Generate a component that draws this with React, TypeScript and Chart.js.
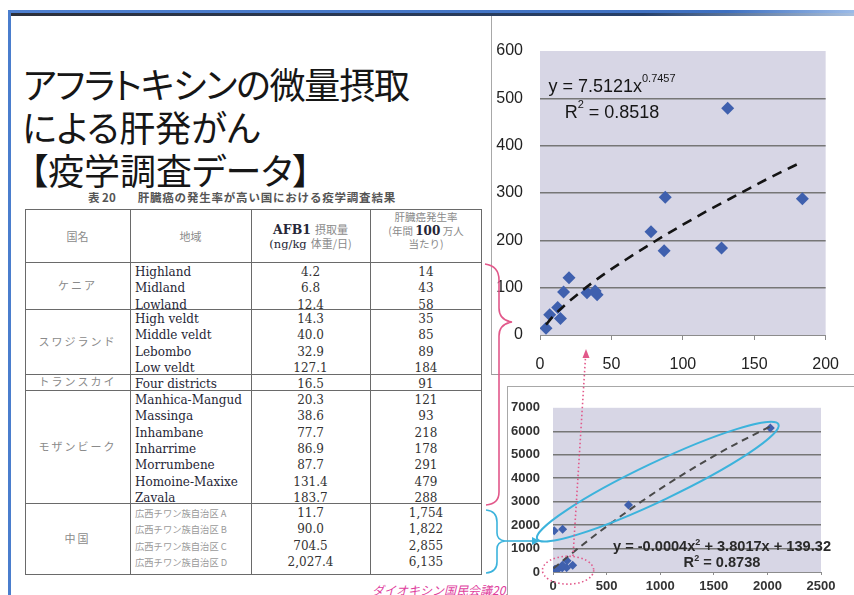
import React, { useEffect, useRef } from 'react';
import { Chart, registerables } from 'chart.js';

Chart.register(...registerables);

// ---------- survey data (Table 20) ----------
const countries = ['ケニア', 'スワジランド', 'トランスカイ', 'モザンビーク', '中国'];
const regionsPerCountry = [3, 4, 1, 7, 4];
const regions = [
  'Highland', 'Midland', 'Lowland',
  'High veldt', 'Middle veldt', 'Lebombo', 'Low veldt',
  'Four districts',
  'Manhica-Mangud', 'Massinga', 'Inhambane', 'Inharrime', 'Morrumbene', 'Homoine-Maxixe', 'Zavala',
  '広西チワン族自治区 A', '広西チワン族自治区 B', '広西チワン族自治区 C', '広西チワン族自治区 D',
];
// AFB1 intake (ng/kg body weight/day)
const afb1Intake = [4.2, 6.8, 12.4, 14.3, 40.0, 32.9, 127.1, 16.5, 20.3, 38.6, 77.7, 86.9, 87.7, 131.4, 183.7, 11.7, 90.0, 704.5, 2027.4];
// liver cancer incidence (per million per year)
const liverCancerRate = [14, 43, 58, 35, 85, 89, 184, 91, 121, 93, 218, 178, 291, 479, 288, 1754, 1822, 2855, 6135];
const africanRegionCount = 15;

// trend lines
const powerFitX = [4.2, 10, 20, 40, 60, 80, 100, 120, 140, 160, 183.7];
const powerFitY = [22, 42, 70, 118, 159, 197, 233, 267, 299, 331, 366];
const polyFitX = [4.2, 250, 500, 750, 1000, 1250, 1500, 1750, 2027.4];
const polyFitY = [155, 1065, 1940, 2766, 3541, 4266, 4942, 5567, 6203];

// axis ticks
const topXTicks = [0, 50, 100, 150, 200];
const topYTicks = [0, 100, 200, 300, 400, 500, 600];
const bottomXTicks = [0, 500, 1000, 1500, 2000, 2500];
const bottomYTicks = [0, 1000, 2000, 3000, 4000, 5000, 6000, 7000];

// trend line labels
const powerFitEquation = [{ t: 'y = 7.5121x' }, { t: '0.7457', sup: true }];
const powerFitR2 = [{ t: 'R' }, { t: '2', sup: true }, { t: ' = 0.8518' }];
const polyFitEquation = [{ t: 'y = -0.0004x' }, { t: '2', sup: true }, { t: ' + 3.8017x + 139.32' }];
const polyFitR2 = [{ t: 'R' }, { t: '2', sup: true }, { t: ' = 0.8738' }];

// ---------- styling ----------
const ARIAL = '"Liberation Sans", Arial, sans-serif';
const GOTHIC = '"Noto Sans CJK JP", "Noto Sans", sans-serif';
const SERIF = '"DejaVu Serif", "Liberation Serif", serif';
const PLOT_BG = '#d7d6e5';
const GRID = '#767676';
const POINT = '#3f60ae';
const PINK = '#e2588a';
const CYAN = '#3cb3dc';

const pts = (xs: number[], ys: number[]) => xs.map((x, i) => ({ x, y: ys[i] }));
const plain = (v: any) => String(v);

const plotBackground = {
  id: 'plotBackground',
  beforeDraw(chart: any, _args: any, opts: any) {
    const { ctx, chartArea: a } = chart;
    ctx.save();
    ctx.fillStyle = opts.color;
    ctx.fillRect(a.left, a.top, a.right - a.left, a.bottom - a.top);
    ctx.restore();
  },
};

// centred multi-line label with superscripts
const fitLabel = {
  id: 'fitLabel',
  afterDatasetsDraw(chart: any, _args: any, opts: any) {
    const { ctx, chartArea: a } = chart;
    ctx.save();
    ctx.fillStyle = opts.color;
    ctx.textBaseline = 'alphabetic';
    const main = `${opts.weight} ${opts.size}px ${ARIAL}`;
    const sup = `${opts.weight} ${opts.supSize}px ${ARIAL}`;
    opts.lines.forEach((line: any) => {
      let w = 0;
      line.parts.forEach((p: any) => {
        ctx.font = p.sup ? sup : main;
        w += ctx.measureText(p.t).width;
      });
      let x = a.left + opts.cx - w / 2;
      const base = a.top + line.dy;
      line.parts.forEach((p: any) => {
        ctx.font = p.sup ? sup : main;
        ctx.fillText(p.t, x, p.sup ? base - opts.supRise : base);
        x += ctx.measureText(p.t).width;
      });
    });
    ctx.restore();
  },
};

// rings drawn around the two groups of regions
const groupRings = {
  id: 'groupRings',
  afterDatasetsDraw(chart: any) {
    const { ctx, scales } = chart;
    const px = (i: number) => [scales.x.getPixelForValue(afb1Intake[i]), scales.y.getPixelForValue(liverCancerRate[i])];
    ctx.save();
    // Chinese regions
    const [x1, y1] = px(africanRegionCount);
    const [x2, y2] = px(afb1Intake.length - 1);
    const len = Math.hypot(x2 - x1, y2 - y1);
    const ux = (x2 - x1) / len;
    const uy = (y2 - y1) / len;
    const semi = (len + 28) / 2;
    const off = semi - 19;
    ctx.strokeStyle = CYAN;
    ctx.lineWidth = 2;
    ctx.beginPath();
    ctx.ellipse(x1 + ux * off, y1 + uy * off, semi, 19, Math.atan2(uy, ux), 0, Math.PI * 2);
    ctx.stroke();
    // African regions
    let minX = Infinity, maxX = -Infinity, minY = Infinity, maxY = -Infinity;
    for (let i = 0; i < africanRegionCount; i++) {
      const [x, y] = px(i);
      minX = Math.min(minX, x); maxX = Math.max(maxX, x);
      minY = Math.min(minY, y); maxY = Math.max(maxY, y);
    }
    ctx.strokeStyle = PINK;
    ctx.lineWidth = 1.6;
    ctx.setLineDash([1.5, 2.5]);
    ctx.beginPath();
    ctx.ellipse((minX + maxX) / 2 + 5, (minY + maxY) / 2 + 4, (maxX - minX) / 2 + 16, (maxY - minY) / 2 + 8.5, 0, 0, Math.PI * 2);
    ctx.stroke();
    ctx.restore();
  },
};

const gridColor = (lo: number, hi: number) => (c: any) =>
  c.tick && (c.tick.value === lo || c.tick.value === hi) ? 'rgba(0,0,0,0)' : GRID;

function topConfig(): any {
  return {
    type: 'scatter',
    data: {
      datasets: [
        {
          type: 'line',
          data: pts(powerFitX, powerFitY),
          borderColor: '#141414',
          borderWidth: 2.6,
          borderDash: [10, 7],
          pointRadius: 0,
          cubicInterpolationMode: 'monotone',
          fill: false,
          order: 0,
        },
        {
          data: pts(afb1Intake.slice(0, africanRegionCount), liverCancerRate.slice(0, africanRegionCount)),
          pointStyle: 'rectRot',
          pointRadius: 6.5,
          backgroundColor: POINT,
          borderWidth: 0,
          order: 1,
        },
      ],
    },
    options: {
      animation: false,
      responsive: false,
      events: [],
      layout: { padding: { top: 35, right: 22, left: 0, bottom: 0 } },
      plugins: {
        legend: { display: false },
        tooltip: { enabled: false },
        plotBackground: { color: PLOT_BG },
        fitLabel: {
          color: '#161616', weight: 'normal', size: 18, supSize: 11, supRise: 10, cx: 72,
          lines: [{ dy: 41, parts: powerFitEquation }, { dy: 67, parts: powerFitR2 }],
        },
      },
      scales: {
        x: {
          type: 'linear',
          min: topXTicks[0],
          max: topXTicks[topXTicks.length - 1],
          ticks: { stepSize: topXTicks[1] - topXTicks[0], color: '#222', font: { family: ARIAL, size: 16 }, padding: 15, maxRotation: 0, callback: plain },
          grid: { drawOnChartArea: false, drawTicks: true, tickLength: 5, color: '#8c8c8c' },
          border: { display: true, color: '#8c8c8c', width: 1 },
          afterFit: (s: any) => { s.height = 38; },
        },
        y: {
          min: topYTicks[0],
          max: topYTicks[topYTicks.length - 1],
          ticks: { stepSize: topYTicks[1] - topYTicks[0], color: '#222', font: { family: ARIAL, size: 16 }, padding: 17, callback: plain },
          grid: { color: gridColor(topYTicks[0], topYTicks[topYTicks.length - 1]), lineWidth: 1.5, drawTicks: false },
          border: { display: false },
          afterFit: (s: any) => { s.width = 48; },
        },
      },
    },
    plugins: [plotBackground, fitLabel],
  };
}

function bottomConfig(): any {
  return {
    type: 'scatter',
    data: {
      datasets: [
        {
          type: 'line',
          data: pts(polyFitX, polyFitY),
          borderColor: '#4a4a4a',
          borderWidth: 2,
          borderDash: [7, 5],
          pointRadius: 0,
          cubicInterpolationMode: 'monotone',
          fill: false,
          order: 0,
        },
        {
          data: pts(afb1Intake, liverCancerRate),
          pointStyle: 'rectRot',
          pointRadius: 4.5,
          backgroundColor: POINT,
          borderWidth: 0,
          order: 1,
        },
      ],
    },
    options: {
      animation: false,
      responsive: false,
      events: [],
      layout: { padding: { top: 20, right: 33, left: 0, bottom: 0 } },
      plugins: {
        legend: { display: false },
        tooltip: { enabled: false },
        plotBackground: { color: PLOT_BG },
        fitLabel: {
          color: '#2a2a2a', weight: 'bold', size: 14.6, supSize: 9, supRise: 6, cx: 169,
          lines: [{ dy: 143, parts: polyFitEquation }, { dy: 159, parts: polyFitR2 }],
        },
      },
      scales: {
        x: {
          type: 'linear',
          min: bottomXTicks[0],
          max: bottomXTicks[bottomXTicks.length - 1],
          ticks: { stepSize: bottomXTicks[1] - bottomXTicks[0], color: '#333', font: { family: ARIAL, size: 13, weight: 'bold' }, padding: 4, maxRotation: 0, callback: plain },
          grid: { drawOnChartArea: false, drawTicks: true, tickLength: 3, color: '#8c8c8c' },
          border: { display: true, color: '#8c8c8c', width: 1 },
          afterFit: (s: any) => { s.height = 23; },
        },
        y: {
          min: bottomYTicks[0],
          max: bottomYTicks[bottomYTicks.length - 1],
          ticks: { stepSize: bottomYTicks[1] - bottomYTicks[0], color: '#333', font: { family: ARIAL, size: 13, weight: 'bold' }, padding: 13, callback: plain },
          grid: { color: gridColor(bottomYTicks[0], bottomYTicks[bottomYTicks.length - 1]), lineWidth: 1.5, drawTicks: false },
          border: { display: false },
          afterFit: (s: any) => { s.width = 45; },
        },
      },
    },
    plugins: [plotBackground, fitLabel, groupRings],
  };
}

// ---------- table ----------
const colEdges = [25, 130, 251, 370, 482];
const TABLE_TOP = 209;
const groupEdges = [262, 309, 374, 390, 503, 575];
const ROW_PITCH = 16.3;
const RULE = '#6a6a6a';

const abs = (s: React.CSSProperties): React.CSSProperties => ({ position: 'absolute', whiteSpace: 'nowrap', ...s });

function SurveyTable() {
  const els: React.ReactNode[] = [];
  els.push(
    <div key="frame" style={abs({ left: colEdges[0], top: TABLE_TOP, width: colEdges[4] - colEdges[0], height: groupEdges[5] - TABLE_TOP, border: `1px solid ${RULE}`, boxSizing: 'border-box' })} />,
  );
  colEdges.slice(1, -1).forEach((x, i) =>
    els.push(<div key={`v${i}`} style={abs({ left: x, top: TABLE_TOP, width: 1, height: groupEdges[5] - TABLE_TOP, background: RULE })} />),
  );
  groupEdges.slice(0, -1).forEach((y, i) =>
    els.push(<div key={`h${i}`} style={abs({ left: colEdges[0], top: y, width: colEdges[4] - colEdges[0], height: 1, background: RULE })} />),
  );

  const grayJp: React.CSSProperties = { fontFamily: GOTHIC, color: '#8a8a8a' };
  const darkSerif: React.CSSProperties = { fontFamily: SERIF, color: '#262636' };
  const cell = (key: string, left: number, right: number, center: number, content: React.ReactNode, extra: React.CSSProperties = {}) => (
    <div key={key} style={abs({ left, width: right - left, top: center - 8, height: 16, lineHeight: '16px', textAlign: 'center', ...extra })}>{content}</div>
  );

  // header
  els.push(cell('hc', colEdges[0], colEdges[1], 236, '国名', { ...grayJp, fontSize: 11 }));
  els.push(cell('hr', colEdges[1], colEdges[2], 236, '地域', { ...grayJp, fontSize: 11 }));
  els.push(cell('ha1', colEdges[2], colEdges[3], 229, (
    <><span style={{ ...darkSerif, fontSize: 12.5, fontWeight: 'bold' }}>AFB1</span> <span style={{ ...grayJp, fontSize: 11 }}>摂取量</span></>
  )));
  els.push(cell('ha2', colEdges[2], colEdges[3], 243, (
    <><span style={{ ...darkSerif, fontSize: 11.5 }}>(ng/kg</span> <span style={{ ...grayJp, fontSize: 11 }}>体重/日)</span></>
  )));
  els.push(cell('hi1', colEdges[3], colEdges[4], 217, '肝臓癌発生率', { ...grayJp, fontSize: 10.5 }));
  els.push(cell('hi2', colEdges[3], colEdges[4], 230, (
    <><span style={{ ...grayJp, fontSize: 10.5 }}>(年間 </span><span style={{ ...darkSerif, fontSize: 12, fontWeight: 'bold' }}>100</span><span style={{ ...grayJp, fontSize: 10.5 }}> 万人</span></>
  )));
  els.push(cell('hi3', colEdges[3], colEdges[4], 244, '当たり)', { ...grayJp, fontSize: 10.5 }));

  // body
  let idx = 0;
  countries.forEach((country, g) => {
    const top = groupEdges[g];
    const bottom = groupEdges[g + 1];
    els.push(cell(`c${g}`, colEdges[0], colEdges[1], (top + bottom) / 2 - 1, country, { ...grayJp, fontSize: 11, letterSpacing: 2 }));
    for (let k = 0; k < regionsPerCountry[g]; k++, idx++) {
      const cy = top + 10 + ROW_PITCH * k;
      const isChina = g === countries.length - 1;
      els.push(
        <div key={`r${idx}`} style={abs({ left: colEdges[1] + 5, top: cy - 8, height: 16, lineHeight: '16px', ...(isChina ? { ...grayJp, fontSize: 9.3, color: '#9a9a9a' } : { ...darkSerif, fontSize: 12 }) })}>
          {regions[idx]}
        </div>,
      );
      els.push(cell(`a${idx}`, colEdges[2], colEdges[3], cy,
        afb1Intake[idx].toLocaleString('en-US', { minimumFractionDigits: 1, maximumFractionDigits: 1 }),
        { ...darkSerif, fontSize: 12, color: '#333' }));
      els.push(cell(`i${idx}`, colEdges[3], colEdges[4], cy,
        liverCancerRate[idx].toLocaleString('en-US'),
        { ...darkSerif, fontSize: 12, color: '#333' }));
    }
  });
  return <>{els}</>;
}

export default function App() {
  const topRef = useRef<HTMLCanvasElement>(null);
  const bottomRef = useRef<HTMLCanvasElement>(null);

  useEffect(() => {
    const top = new Chart(topRef.current as HTMLCanvasElement, topConfig());
    const bottom = new Chart(bottomRef.current as HTMLCanvasElement, bottomConfig());
    return () => {
      top.destroy();
      bottom.destroy();
    };
  }, []);

  const titleLine: React.CSSProperties = {
    fontFamily: GOTHIC, fontSize: 36, lineHeight: '40px', color: '#161616', fontFeatureSettings: '"palt"',
  };

  return (
    <div style={{ position: 'absolute', left: 0, top: 0, width: 854, height: 595, background: '#fff', overflow: 'hidden' }}>
      {/* slide frame */}
      <div style={abs({ left: 8, top: 10, width: 846, height: 3, background: 'linear-gradient(90deg,#4f80d0,#3d6fc0 85%,#9bbbe8)' })} />
      <div style={abs({ left: 10, top: 13, width: 844, height: 3, background: 'linear-gradient(90deg,#2c2f3a,#26406a 75%,#a7bfdf)' })} />
      <div style={abs({ left: 8, top: 10, width: 3, height: 585, background: '#4a7dcd' })} />

      {/* title */}
      <div style={abs({ left: 23, top: 63, letterSpacing: -1.2, ...titleLine })}>アフラトキシンの微量摂取</div>
      <div style={abs({ left: 22, top: 106, ...titleLine })}>による肝発がん</div>
      <div style={abs({ left: 30, top: 149, ...titleLine })}>【疫学調査データ】</div>

      {/* table caption */}
      <div style={abs({ left: 88, top: 190, fontFamily: GOTHIC, fontSize: 11.5, lineHeight: '14px', color: '#555', fontWeight: 'bold' })}>
        表 20<span style={{ display: 'inline-block', width: 22 }} /><span style={{ letterSpacing: 0.8 }}>肝臓癌の発生率が高い国における疫学調査結果</span>
      </div>

      <SurveyTable />

      {/* source note */}
      <div style={abs({ left: 372, top: 582, fontFamily: GOTHIC, fontSize: 12, lineHeight: '16px', fontStyle: 'italic', color: '#e0409e' })}>
        ダイオキシン国民会議201507
      </div>

      {/* upper chart: African regions */}
      <div style={abs({ left: 491, top: 16, width: 363, height: 358, borderLeft: '1px solid #a8a8a8', borderBottom: '1px solid #9a9a9a', background: '#fff' })}>
        <canvas ref={topRef} width={362} height={357} style={{ display: 'block' }} />
      </div>

      {/* lower chart: all regions */}
      <div style={abs({ left: 507, top: 386, width: 347, height: 209, borderLeft: '1px solid #a8a8a8', borderTop: '1px solid #a8a8a8', background: '#fff' })}>
        <canvas ref={bottomRef} width={346} height={208} style={{ display: 'block' }} />
      </div>

      {/* braces and arrows linking the table to the charts */}
      <svg width={854} height={595} style={{ position: 'absolute', left: 0, top: 0, pointerEvents: 'none' }}>
        <path d="M485 264 Q499 266 499 280 L499 308 Q499 320 512 322 Q499 324 499 336 L499 492 Q499 504 486 505" fill="none" stroke={PINK} strokeWidth={1.6} />
        <path d="M486 510 Q497 511 497 522 L497 533 Q497 540 505 541 Q497 542 497 549 L497 562 Q497 572 486 573" fill="none" stroke={CYAN} strokeWidth={1.6} />
        <line x1={505} y1={541} x2={533} y2={541} stroke={CYAN} strokeWidth={1.6} />
        <polygon points="540,541 532,537 532,545" fill={CYAN} />
        <line x1={573} y1={556} x2={585.5} y2={357} stroke={PINK} strokeWidth={1.6} strokeDasharray="1.5 2.5" />
        <polygon points="586,349 582.5,358 589.5,358" fill={PINK} />
      </svg>
    </div>
  );
}
